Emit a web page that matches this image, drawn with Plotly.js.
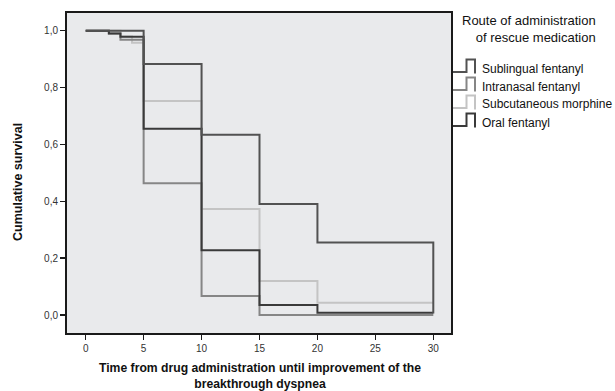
<!DOCTYPE html>
<html><head><meta charset="utf-8">
<script src="https://cdn.plot.ly/plotly-3.0.1.min.js"></script>
<style>html,body{margin:0;padding:0;background:#fff}#chart{width:615px;height:391px}</style>
</head><body><div id="chart"></div>
<script>
// ---- data ----
const seriesNames = ['Sublingual fentanyl', 'Intranasal fentanyl', 'Subcutaneous morphine', 'Oral fentanyl'];
const sublingualTime = [0, 5, 10, 15, 20, 30];
const sublingualSurv = [1, 0.883, 0.634, 0.39, 0.255, 0.005];
const intranasalTime = [0, 2, 3, 5, 10, 15, 30];
const intranasalSurv = [1, 0.99, 0.968, 0.463, 0.067, 0, 0];
const subcutaneousTime = [0, 3, 4, 5, 10, 15, 20, 30];
const subcutaneousSurv = [1, 0.98, 0.958, 0.753, 0.373, 0.12, 0.043, 0.043];
const oralTime = [0, 2, 3, 5, 10, 15, 20, 30];
const oralSurv = [1, 0.99, 0.979, 0.655, 0.228, 0.035, 0.008, 0.008];
const xTickVals = [0, 5, 10, 15, 20, 25, 30];
const xTickText = ['0', '5', '10', '15', '20', '25', '30'];
const yTickVals = [0, 0.2, 0.4, 0.6, 0.8, 1.0];
const yTickText = ['0,0', '0,2', '0,4', '0,6', '0,8', '1,0'];
const legendTitle = 'Route of administration<br> of rescue medication';
const xTitleLines = ['Time from drug administration until improvement of the', 'breakthrough dyspnea'];
const yTitle = 'Cumulative survival';

// ---- styles ----
const colors = ['#525252', '#868686', '#c4c4c4', '#3a3a3a'];
const FONT = 'Liberation Sans, Arial, sans-serif';

// plot area in pixels
const L = 67, R = 451, T = 13, B = 333, W = 615, H = 391;
const pxX = x => (x - L) / (R - L);
const pxY = y => (B - y) / (B - T);

function stepTrace(t, s, i) {
  return {x: t, y: s, type: 'scatter', mode: 'lines', name: seriesNames[i],
    line: {shape: 'hv', color: colors[i], width: 2}, showlegend: false, hoverinfo: 'skip'};
}
const traces = [
  stepTrace(subcutaneousTime, subcutaneousSurv, 2),
  stepTrace(intranasalTime, intranasalSurv, 1),
  stepTrace(oralTime, oralSurv, 3),
  stepTrace(sublingualTime, sublingualSurv, 0)
];

const shapes = [];
const annotations = [];
const rowCenters = [68.5, 86.5, 104.5, 122.5];
seriesNames.forEach((n, i) => {
  const c = rowCenters[i];
  const bot = c + 3.5, top = c - 9;
  const path = `M ${pxX(453)} ${pxY(bot)} L ${pxX(466.5)} ${pxY(bot)} L ${pxX(466.5)} ${pxY(top)} L ${pxX(475)} ${pxY(top)} L ${pxX(475)} ${pxY(bot + 1.5)}`;
  shapes.push({type: 'path', xref: 'paper', yref: 'paper', path: path,
    line: {color: colors[i], width: 2}});
  annotations.push({xref: 'paper', yref: 'paper', x: pxX(479.5), y: pxY(c), xanchor: 'left', yanchor: 'middle',
    text: n, showarrow: false, font: {family: FONT, size: 12, color: '#111'}});
});
annotations.push({xref: 'paper', yref: 'paper', x: pxX(598), y: pxY(29.5), xanchor: 'right', yanchor: 'middle',
  text: legendTitle, align: 'right', showarrow: false, font: {family: FONT, size: 13, color: '#111'}});
annotations.push({xref: 'paper', yref: 'paper', x: pxX(18), y: pxY(182), xanchor: 'center', yanchor: 'middle',
  text: '<b>' + yTitle + '</b>', textangle: -90, showarrow: false, font: {family: FONT, size: 12.5, color: '#111'}});
annotations.push({xref: 'paper', yref: 'paper', x: pxX(259.5), y: pxY(375.5), xanchor: 'center', yanchor: 'middle',
  text: xTitleLines.map(s => '<b>' + s + '</b>').join('<br>'), showarrow: false,
  font: {family: FONT, size: 12.2, color: '#111'}});

const xScale = (433.3 - 85.7) / 30;
const yScale = (315 - 30.7) / 1;
const layout = {
  width: W, height: H,
  margin: {l: L, r: W - R, t: T, b: H - B, pad: 0},
  paper_bgcolor: '#ffffff', plot_bgcolor: '#e9eaec',
  showlegend: false,
  font: {family: FONT},
  xaxis: {range: [-(85.7 - L) / xScale, (R - 85.7) / xScale], tickvals: xTickVals, ticktext: xTickText,
    showgrid: false, zeroline: false, showline: true, linecolor: '#1a1a1a', linewidth: 2, mirror: true,
    ticks: 'outside', ticklen: 5, tickwidth: 1.5, tickcolor: '#1a1a1a',
    tickfont: {family: FONT, size: 10, color: '#333'}},
  yaxis: {range: [-(B - 315) / yScale, (315 - T) / yScale], tickvals: yTickVals, ticktext: yTickText,
    showgrid: false, zeroline: false, showline: true, linecolor: '#1a1a1a', linewidth: 2, mirror: true,
    ticks: 'outside', ticklen: 5, tickwidth: 1.5, tickcolor: '#1a1a1a',
    tickfont: {family: FONT, size: 10, color: '#333'}},
  shapes: shapes,
  annotations: annotations
};
Plotly.newPlot('chart', traces, layout, {staticPlot: true, displayModeBar: false});
</script>
</body></html>
